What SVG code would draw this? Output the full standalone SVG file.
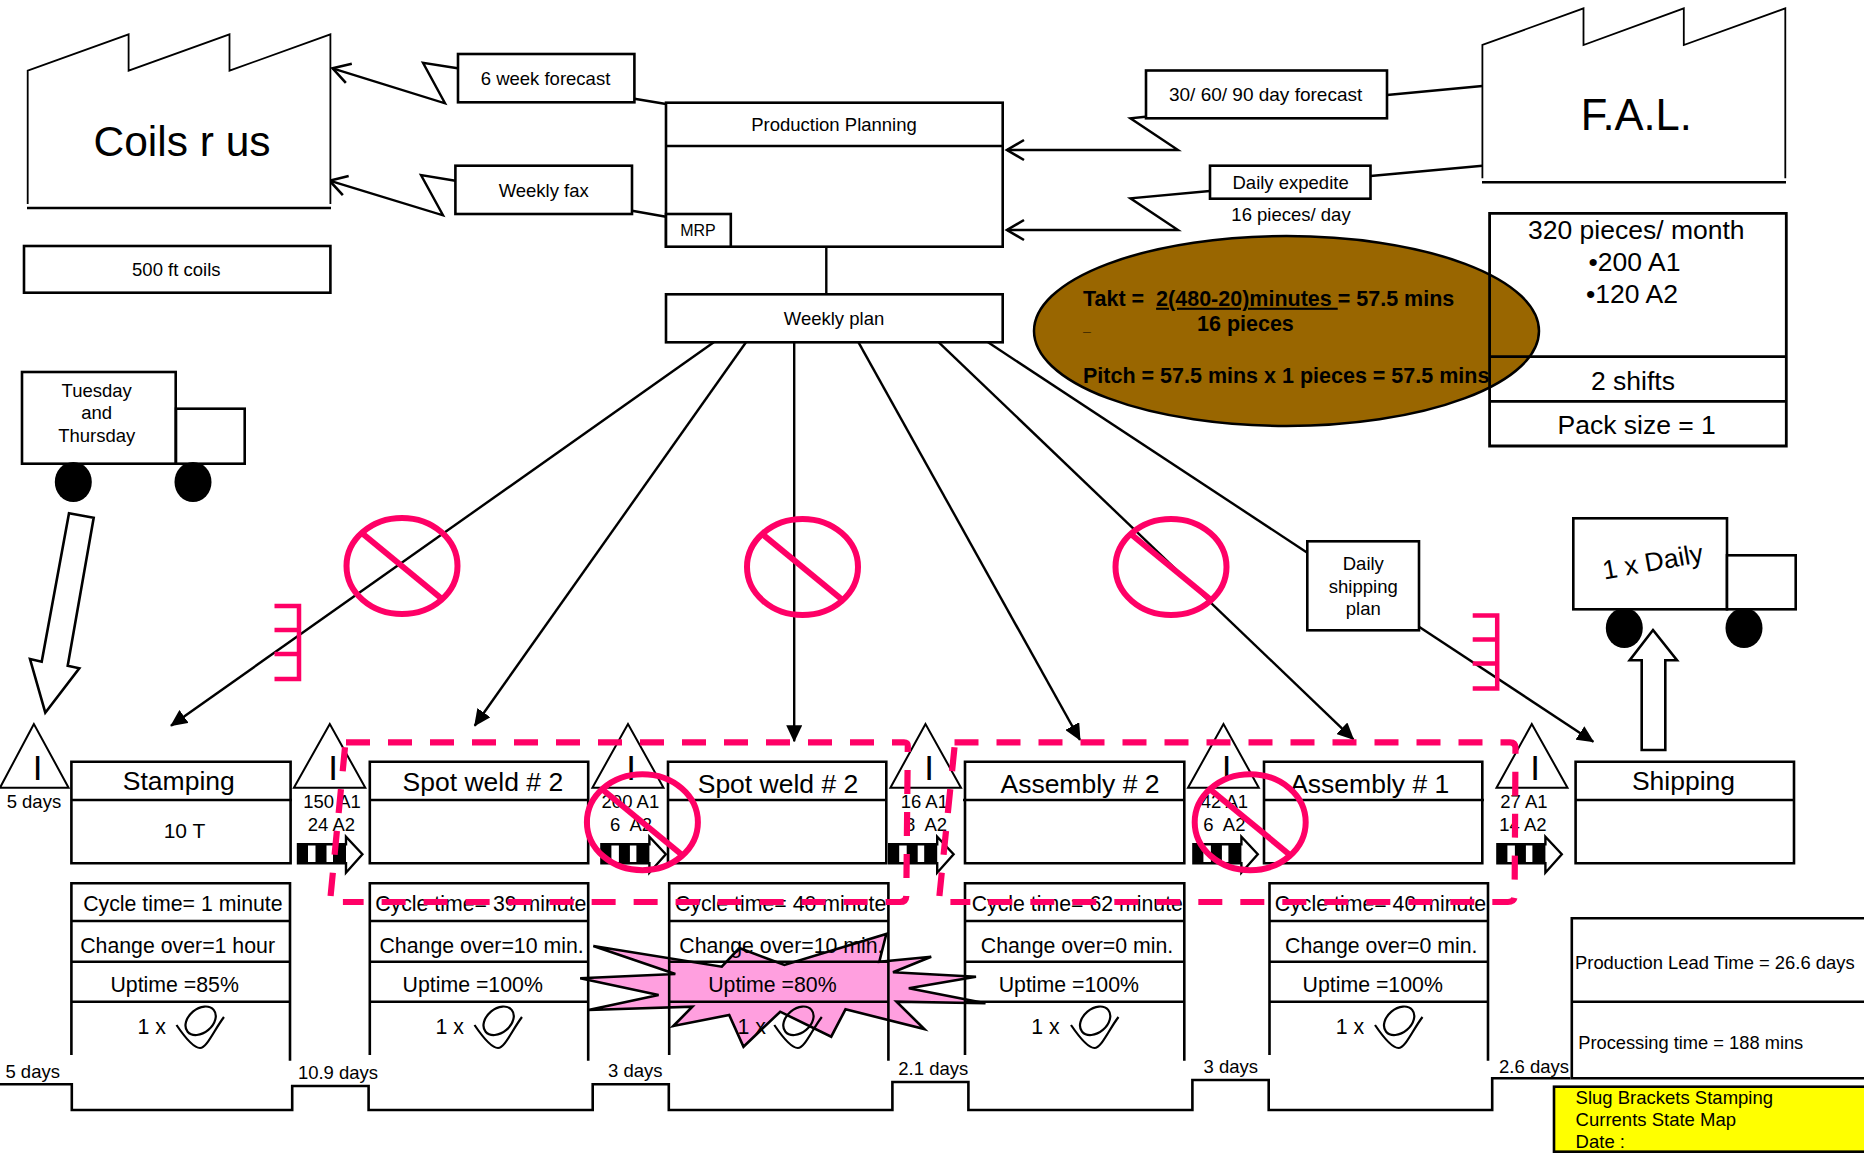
<svg xmlns="http://www.w3.org/2000/svg" xmlns:xlink="http://www.w3.org/1999/xlink" width="1864" height="1154" viewBox="0 0 1864 1154">
<style>
text{font-family:"Liberation Sans",Arial,sans-serif;fill:#000}
.m{text-anchor:middle}
.f18{font-size:18.5px}
.f16{font-size:16px}
.f185{font-size:18.5px}
.f21{font-size:21.3px}
.f26{font-size:26.5px}
.f42{font-size:42.5px}
.i{font-size:35px;text-anchor:middle}
.b{font-size:21.5px;font-weight:bold}
.box{fill:#fff;stroke:#000;stroke-width:2.6}
.nf{fill:none;stroke:#000;stroke-width:2.6}
.fac{fill:#fff;stroke:#000;stroke-width:1.8}
.tri{fill:#fff;stroke:#000;stroke-width:2}
.ln{fill:none;stroke:#000;stroke-width:2.4}
.pk{fill:none;stroke:#FF0066;stroke-width:6}
.dash{fill:none;stroke:#FF0066;stroke-width:6.2;stroke-dasharray:24 18}
.blk{fill:#000}
</style>
<defs>
<marker id="solid" markerUnits="userSpaceOnUse" markerWidth="17" markerHeight="16" refX="16" refY="8" orient="auto" viewBox="0 0 17 16"><path d="M0 0L17 8L0 16Z" fill="#000"/></marker>
<marker id="open" markerUnits="userSpaceOnUse" markerWidth="22" markerHeight="24" refX="19" refY="12" orient="auto" viewBox="0 0 22 24"><path d="M2 2L19 12L2 22" fill="none" stroke="#000" stroke-width="2.6"/></marker>
<g id="operator"><ellipse cx="0" cy="1" rx="17" ry="12" transform="rotate(-40)" fill="none" stroke="#000" stroke-width="2.2"/><path d="M-23.5 5C-14 19-6 28 0 28C7 28 14 10 24-3" fill="none" stroke="#000" stroke-width="2.2"/></g>
<g id="push"><path d="M0 0H48V-7.6L64.4 10L48 28.4V19H0Z" fill="#fff" stroke="#000" stroke-width="2.4"/><rect class="blk" width="10" height="19"/><rect class="blk" x="17.5" width="11" height="19"/><rect class="blk" x="35" width="13" height="19"/></g>
<g id="nope"><ellipse rx="55.5" ry="48" class="pk"/><path d="M-39-32L40 33" class="pk"/></g>
<g id="ticks"><path d="M0 0H24.5V73H0M0 24H24.5M0 48H24.5" class="pk" style="stroke-width:4.5"/></g>
</defs>

<g id="connectors">
<path class="ln" d="M457.6 68.3L423 62.7L445 103.3L332.6 68.3" marker-end="url(#open)"/>
<path class="ln" d="M634.4 98.7L666 104"/>
<path class="ln" d="M455.4 180.7L421 175L443 215.3L329.5 180.7" marker-end="url(#open)"/>
<path class="ln" d="M632 210.7L666 216.7"/>
<path class="ln" d="M1145.5 116.7L1130.4 118.3L1178 150H1007" marker-end="url(#open)"/>
<path class="ln" d="M1387 95L1482.4 86"/>
<path class="ln" d="M1209.8 191L1130.4 198.3L1178 230H1007" marker-end="url(#open)"/>
<path class="ln" d="M1370.5 176L1482.4 165.7"/>
<path class="ln" d="M826.3 246.7V294.3"/>
<path class="ln" d="M713.8 342.3L171 725.7" marker-end="url(#solid)"/>
<path class="ln" d="M746 342.3L474.7 725.7" marker-end="url(#solid)"/>
<path class="ln" d="M794.2 342.3V741.3" marker-end="url(#solid)"/>
<path class="ln" d="M858.5 342.3L1080 740" marker-end="url(#solid)"/>
<path class="ln" d="M938.8 342.3L1353.4 739.3" marker-end="url(#solid)"/>
<path class="ln" d="M988 342.3L1307.3 552.7"/>
<path class="ln" d="M1419 626.7L1593.3 741.7" marker-end="url(#solid)"/>
</g>

<g id="kaizen-burst"><path d="M593.3 946L721.8 966.7L739.4 948L784.4 965L886.3 934L879.3 961.7L931.2 956.7L893 972.3L976 976.7L908.8 988.3L985.5 1003.3L896.5 1001.7L924.3 1029L845.5 1009.3L831.2 1036.7L780.2 1011.7L743.5 1046.7L729.2 1015L673.3 1026L692.4 1006.7L588.4 1010L658.6 995L580.2 978.3L675.3 974Z" fill="#FF9FDF" stroke="#000" stroke-width="2.6"/></g>

<g id="takt-ellipse">
<ellipse cx="1286.5" cy="331" rx="252.5" ry="95" fill="#996600" stroke="#000" stroke-width="2.5"/>
<text class="b" x="1083" y="305.7" xml:space="preserve">Takt =  <tspan text-decoration="underline">2(480-20)minutes </tspan>= 57.5 mins</text>
<text class="b" x="1197" y="331">16 pieces</text>
<text x="1083" y="331" style="font-size:14px;font-weight:bold">_</text>
<text class="b" x="1083" y="382.7">Pitch = 57.5 mins x 1 pieces = 57.5 mins</text>
</g>

<g id="coils-factory"><path class="fac" d="M27.7 204V70.7L128.6 34.3V70.7L229.5 34.3V70.7L330.4 34.3V204"/><path class="ln" d="M27 208H331"/><text class="m f42" x="182" y="156">Coils r us</text></g>
<g id="coils-label"><rect class="box" x="24" y="246" width="306.4" height="46.7"/><text class="m f18" x="176.3" y="276">500 ft coils</text></g>
<g id="forecast-6w"><rect class="box" x="458" y="54" width="176.4" height="48.3"/><text class="m f18" x="545.5" y="85">6 week forecast</text></g>
<g id="weekly-fax"><rect class="box" x="455.4" y="165.7" width="176.6" height="48.3"/><text class="m f18" x="543.7" y="197.3">Weekly fax</text></g>
<g id="production-planning"><rect class="box" x="666" y="102.7" width="336.7" height="144"/><path class="nf" d="M666 146H1002.7"/><text class="m f18" x="834" y="131">Production Planning</text><rect class="box" x="666" y="214" width="64.8" height="32.7"/><text class="m f16" x="698" y="235.7">MRP</text></g>
<g id="weekly-plan"><rect class="box" x="666" y="294.3" width="336.7" height="48"/><text class="m f18" x="834" y="325">Weekly plan</text></g>
<g id="forecast-30"><rect class="box" x="1146" y="70.5" width="241" height="47.8"/><text class="m" style="font-size:19px" x="1265.6" y="100.7">30/ 60/ 90 day forecast</text></g>
<g id="daily-expedite"><rect class="box" x="1210" y="165.7" width="160.5" height="33"/><text class="m f18" x="1290.6" y="189.3">Daily expedite</text><text class="m f18" x="1291" y="221">16 pieces/ day</text></g>
<g id="fal-factory"><path class="fac" d="M1482.4 178.3V45L1583.5 8.3V45L1683.8 8.3V45L1785.3 8.3V178.3"/><path class="ln" d="M1482 182.3H1786"/><text class="m" style="font-size:43.5px" x="1636.3" y="130">F.A.L.</text></g>
<g id="customer-data"><path class="nf" d="M1489.6 213.3H1786.3V446H1489.6ZM1489.6 356.7H1786.3M1489.6 401.3H1786.3" style="stroke-width:2.8"/><text class="m f26" x="1636.3" y="238.7">320 pieces/ month</text><text class="m f26" x="1634.5" y="270.7">•200 A1</text><text class="m f26" x="1632" y="302.7">•120 A2</text><text class="m f26" x="1633" y="390">2 shifts</text><text class="m f26" x="1636.7" y="434">Pack size = 1</text></g>

<g id="truck-in"><rect class="box" x="22" y="372" width="153.7" height="91.7"/><rect class="box" x="176" y="408.7" width="68.7" height="55"/><ellipse class="blk" cx="73.3" cy="482" rx="18.5" ry="20"/><ellipse class="blk" cx="193" cy="482" rx="18.5" ry="20"/><text class="m f18" x="96.7" y="396.7">Tuesday</text><text class="m f18" x="96.7" y="418.7">and</text><text class="m f18" x="96.7" y="441.5">Thursday</text></g>
<g id="arrow-in"><path class="box" d="M69 513.3L93.7 517.7L67.7 665.7L79.3 668.3L45.3 712.7L30 659L41.7 661.7Z"/></g>
<g id="truck-out"><rect class="box" x="1573.3" y="518.3" width="153.7" height="91"/><rect class="box" x="1727" y="555.3" width="68.7" height="54"/><ellipse class="blk" cx="1624.3" cy="628" rx="18.5" ry="20"/><ellipse class="blk" cx="1744" cy="628" rx="18.5" ry="20"/><text class="m" style="font-size:26.5px" transform="translate(1652.7 561.7) rotate(-10)" y="9">1 x Daily</text></g>
<g id="arrow-out"><path class="box" d="M1653 630L1677 660.3H1665.3V750H1641.7V660.3H1629.7Z"/></g>
<g id="shipping-plan"><rect class="box" x="1307.3" y="541.3" width="111.7" height="89"/><text class="m f18" x="1363.3" y="570">Daily</text><text class="m f18" x="1363.3" y="593.3">shipping</text><text class="m f18" x="1363.3" y="615">plan</text></g>

<g id="inv-1"><path class="tri" d="M33.9 724L0 787.7H68.6Z"/><text class="i" x="37.5" y="780">I</text><text class="m f185" x="33.9" y="808.3">5 days</text></g>
<g id="inv-2"><path class="tri" d="M329.8 724L293.9 787.7H365.3Z"/><text class="i" x="333" y="780">I</text><text class="m f185" x="332" y="808.3">150 A1</text><text class="m f185" x="331.4" y="831" xml:space="preserve">24 A2</text></g>
<g id="inv-3"><path class="tri" d="M628 724L592.4 787.7H663.5Z"/><text class="i" x="631.2" y="780">I</text><text class="m f185" x="630.4" y="808.3">200 A1</text><text class="m f185" x="631" y="831" xml:space="preserve">6  A2</text></g>
<g id="inv-4"><path class="tri" d="M925.5 724L890.4 787.7H961Z"/><text class="i" x="929" y="780">I</text><text class="m f185" x="924.3" y="808.3">16 A1</text><text class="m f185" x="926" y="831" xml:space="preserve">8  A2</text></g>
<g id="inv-5"><path class="tri" d="M1223.5 724L1188 787.7H1258.8Z"/><text class="i" x="1226.5" y="780">I</text><text class="m f185" x="1224.4" y="808.3">42 A1</text><text class="m f185" x="1224.4" y="831" xml:space="preserve">6  A2</text></g>
<g id="inv-6"><path class="tri" d="M1531.8 724L1496.5 787.7H1567.5Z"/><text class="i" x="1535" y="780">I</text><text class="m f185" x="1524" y="808.3">27 A1</text><text class="m f185" x="1523" y="831" xml:space="preserve">14 A2</text></g>

<use id="push-1" href="#push" x="298" y="844.3"/>
<use id="push-2" href="#push" x="601.4" y="844.3"/>
<use id="push-3" href="#push" x="889.2" y="844.3"/>
<use id="push-4" href="#push" x="1193.4" y="844.3"/>
<use id="push-5" href="#push" x="1497.4" y="844.3"/>

<g id="proc-stamping"><path class="nf" d="M71.4 761.7H290.6V863.3H71.4ZM71.4 800H292"/><text class="m f26" x="178.8" y="790">Stamping</text><text class="m" style="font-size:21px" x="184.5" y="837.7">10 T</text></g>
<g id="proc-spot1"><path class="nf" d="M369.8 761.7H588.2V863.3H369.8ZM369.8 800H588.2"/><text class="m f26" x="482.9" y="791">Spot weld # 2</text></g>
<g id="proc-spot2"><path class="nf" d="M668 761.7H886.3V863.3H668ZM668 800H886.3"/><text class="m f26" x="778" y="792.7">Spot weld # 2</text></g>
<g id="proc-asm2"><path class="nf" d="M965 761.7H1184.3V863.3H965ZM963 800H1184.3"/><text class="m f26" x="1080" y="793.3">Assembly # 2</text></g>
<g id="proc-asm1"><path class="nf" d="M1264 761.7H1482.3V863.3H1264ZM1264 800H1484"/><text class="m f26" x="1369.7" y="793.3">Assembly # 1</text></g>
<g id="proc-shipping"><path class="nf" d="M1575.6 761.7H1794V863.3H1575.6ZM1575.6 800H1794"/><text class="m f26" x="1683.5" y="790">Shipping</text></g>

<g id="data-stamping"><path class="nf" d="M71.4 1055V883.3H290V1060.7M71.4 921H290M71.4 961.7H290M71.4 1001.7H290"/><text class="m f21" x="182.9" y="910.7">Cycle time= 1 minute</text><text class="m f21" x="177.6" y="952.7">Change over=1 hour</text><text class="m f21" x="174.7" y="991.7">Uptime =85%</text><text class="m f21" x="151.8" y="1034">1 x</text><use href="#operator" x="200" y="1020"/></g>
<g id="data-spot1"><path class="nf" d="M369.8 1055V883.3H588.2V1060.7M369.8 921H588.2M369.8 961.7H588.2M369.8 1001.7H588.2"/><text class="m f21" x="480.8" y="910.7">Cycle time= 39 minute</text><text class="m f21" x="481.6" y="952.7">Change over=10 min.</text><text class="m f21" x="472.7" y="991.7">Uptime =100%</text><text class="m f21" x="449.8" y="1034">1 x</text><use href="#operator" x="498" y="1020"/></g>
<g id="data-spot2"><path class="nf" d="M669.2 1055V883.3H888.4V1060.7M669.2 921H888.4M669.2 961.7H888.4M669.2 1001.7H888.4"/><text class="m f21" x="780.6" y="910.7">Cycle time= 40 minute</text><text class="m f21" x="781.4" y="952.7">Change over=10 min.</text><text class="m f21" x="772.4" y="991.7">Uptime =80%</text><text class="m f21" x="751.6" y="1034">1 x</text><use href="#operator" x="797.8" y="1020"/></g>
<g id="data-asm2"><path class="nf" d="M965 1055V883.3H1184.3V1060.7M965 921H1184.3M965 961.7H1184.3M965 1001.7H1184.3"/><text class="m f21" x="1077.3" y="910.7">Cycle time= 62 minute</text><text class="m f21" x="1077" y="952.7">Change over=0 min.</text><text class="m f21" x="1068.8" y="991.7">Uptime =100%</text><text class="m f21" x="1045.5" y="1034">1 x</text><use href="#operator" x="1094.5" y="1020"/></g>
<g id="data-asm1"><path class="nf" d="M1269.5 1055V883.3H1488V1060.7M1269.5 921H1488M1269.5 961.7H1488M1269.5 1001.7H1488"/><text class="m f21" x="1380.5" y="910.7">Cycle time= 40 minute</text><text class="m f21" x="1381.3" y="952.7">Change over=0 min.</text><text class="m f21" x="1372.7" y="991.7">Uptime =100%</text><text class="m f21" x="1350" y="1034">1 x</text><use href="#operator" x="1398.5" y="1020"/></g>

<g id="timeline"><path class="nf" d="M0 1084.3H71.8V1110H292.2V1086H368.6V1110H592.7V1084.3H668.8V1110H892.4V1082H968.4V1110H1192.4V1080H1268.7V1110H1492.2V1078.3H1570.5"/><text class="m f185" x="32.7" y="1078.3">5 days</text><text class="m f185" x="338" y="1079">10.9 days</text><text class="m f185" x="635.3" y="1077.3">3 days</text><text class="m f185" x="933.3" y="1075">2.1 days</text><text class="m f185" x="1230.8" y="1073.3">3 days</text><text class="m f185" x="1534" y="1073.3">2.6 days</text></g>
<g id="lead-time"><path class="box" d="M1571.8 918.3H1870V1078.3H1571.8Z"/><path class="nf" d="M1571.8 1001.7H1870"/><text style="font-size:18.4px" x="1575" y="969.3">Production Lead Time = 26.6 days</text><text style="font-size:18.3px" x="1578.2" y="1049">Processing time = 188 mins</text></g>
<g id="title-block"><rect x="1554" y="1086.7" width="316" height="65" fill="#FFFF00" stroke="#000" stroke-width="2.6"/><text class="f185" x="1575.6" y="1104.3">Slug Brackets Stamping</text><text class="f185" x="1575.6" y="1126">Currents State Map</text><text class="f185" x="1575.6" y="1148.3">Date :</text></g>

<g id="kaizen-loops">
<path class="dash" d="M346 742.3H904Q908 742.3 907.8 746L906.3 896Q906 902 900 902H342.9"/>
<path class="dash" d="M345 747.3L330.6 896"/>
<path class="dash" d="M954.5 742.3H1510Q1515.5 742.3 1515.5 748L1514.6 896Q1514.6 902 1508 902H950.4"/>
<path class="dash" d="M954.5 747.3L939.4 896"/>
</g>
<g id="signals"><use href="#nope" x="402" y="566"/><use href="#nope" x="802.5" y="567"/><use href="#nope" x="1171" y="567"/><use href="#nope" x="642.4" y="822.2"/><use href="#nope" x="1250.2" y="822.2"/><use href="#ticks" x="274.5" y="606"/><use href="#ticks" x="1472.7" y="615.5"/></g>
</svg>
